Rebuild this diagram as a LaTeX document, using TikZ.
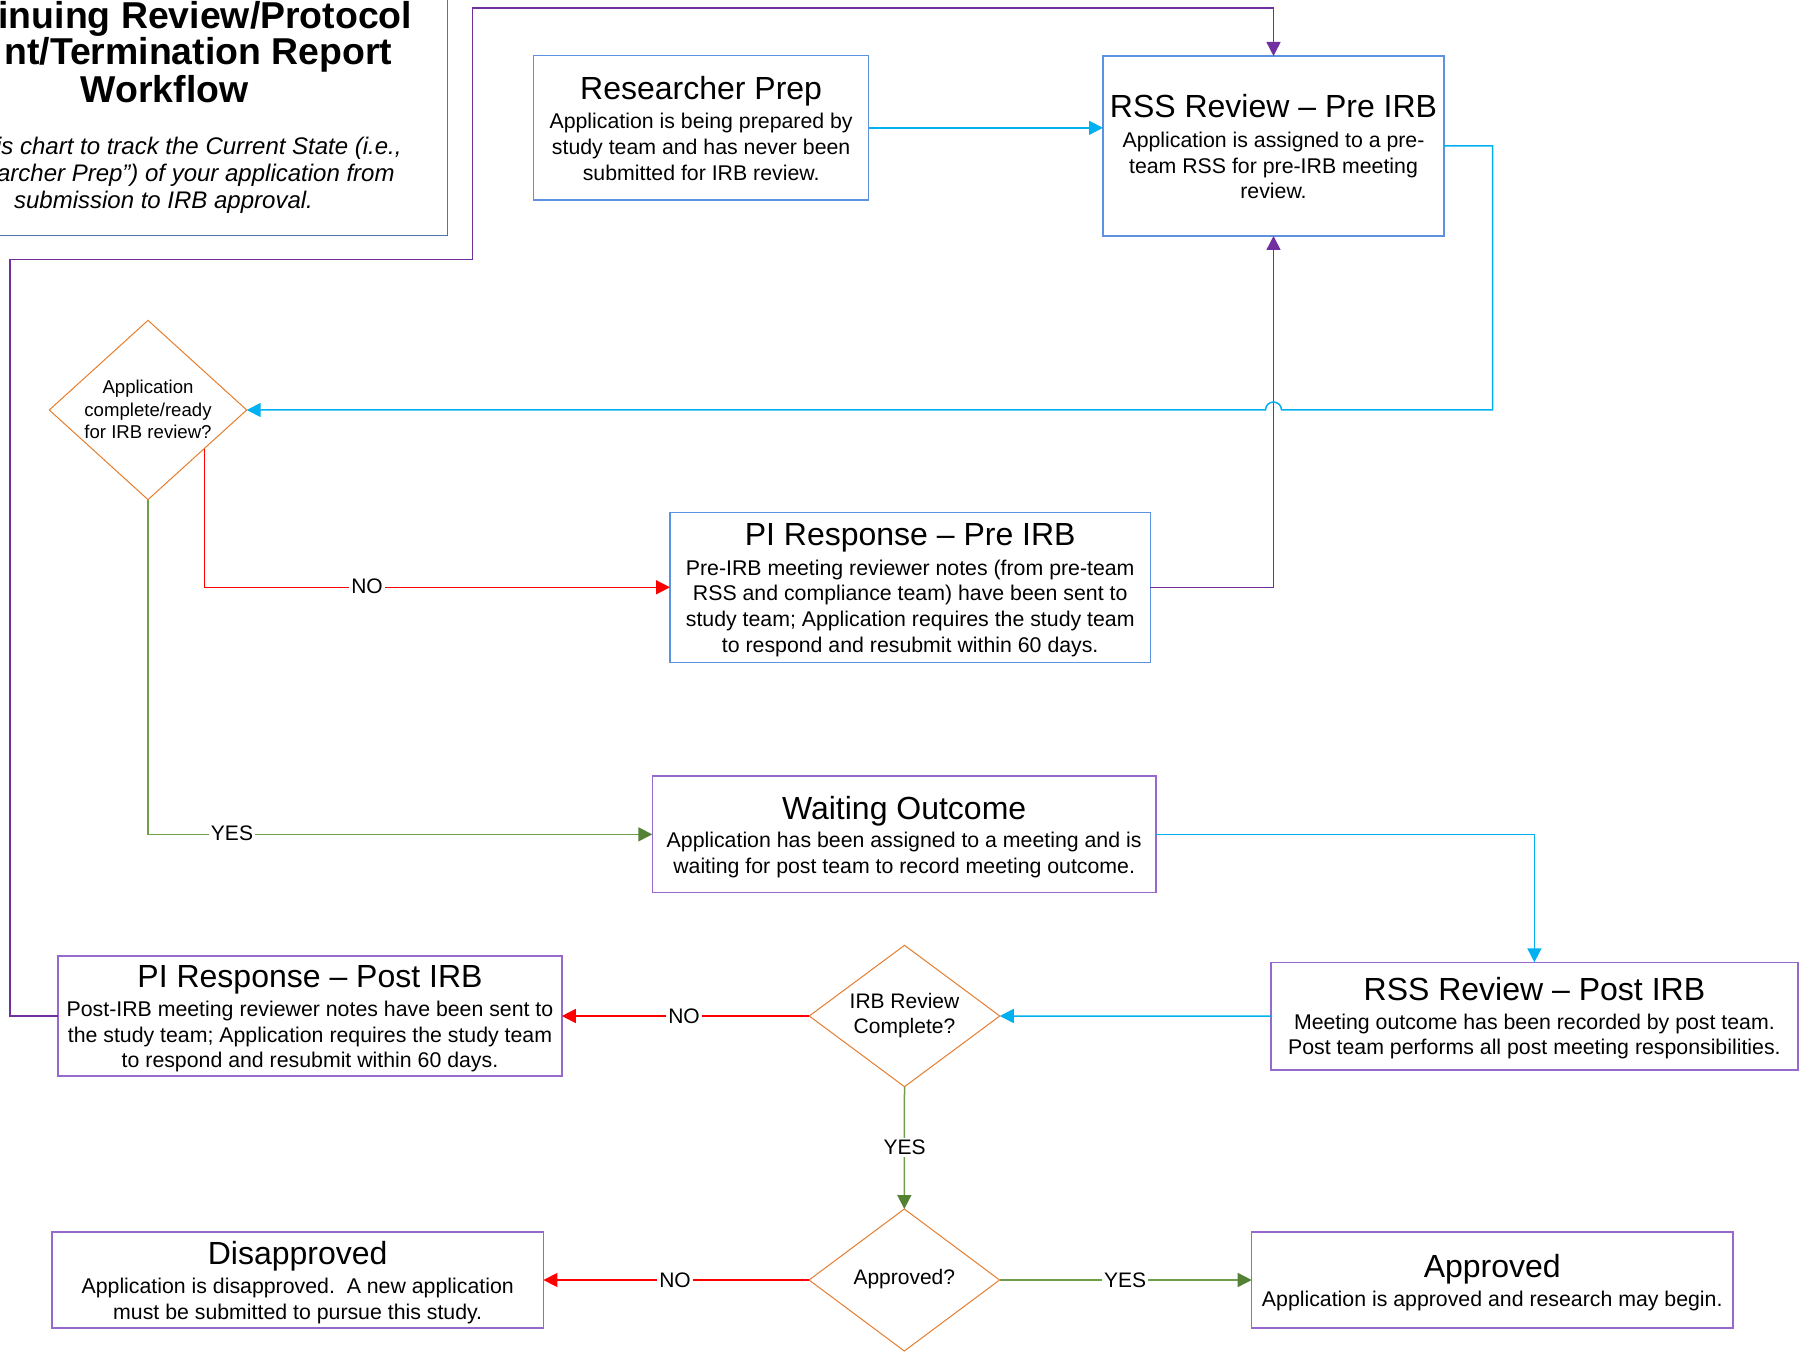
\documentclass[tikz,border=0pt]{standalone}
\usepackage{fontspec}
\setmainfont{Liberation Sans}
\usetikzlibrary{shapes.geometric,arrows.meta,calc}
\definecolor{boxblue}{RGB}{95,145,225}
\definecolor{boxpurple}{RGB}{150,105,205}
\definecolor{framecol}{RGB}{85,115,165}
\definecolor{cpurple}{RGB}{112,48,160}
\definecolor{ccyan}{RGB}{0,176,240}
\definecolor{cred}{RGB}{255,0,0}
\definecolor{cgreen}{RGB}{112,160,70}
\definecolor{cgreendark}{RGB}{84,130,53}
\definecolor{dorange}{RGB}{230,125,45}
\tikzset{
  blbox/.style={draw=boxblue, line width=0.75pt, rectangle, inner sep=0pt, outer sep=0pt},
  pubox/.style={draw=boxpurple, line width=0.75pt, rectangle, inner sep=0pt, outer sep=0pt},
  dia/.style={draw=dorange, line width=0.5pt, diamond, inner sep=0pt, outer sep=0pt},
  ttl/.style={anchor=base, inner sep=0pt, font=\fontsize{16pt}{19pt}\selectfont},
  bdy/.style={anchor=base, inner sep=0pt, align=center, font=\fontsize{10.65pt}{12.9pt}\selectfont},
  dtxt/.style={inner sep=0pt, align=center, font=\fontsize{10.5pt}{12.7pt}\selectfont},
  lbl/.style={fill=white, inner sep=1pt, font=\fontsize{10.5pt}{12.7pt}\selectfont},
  tip/.style={-{Triangle[length=7pt,width=7pt]}},
  cy/.style={draw=ccyan, line width=0.75pt, tip},
  pu/.style={draw=cpurple, line width=0.75pt, tip},
  rd/.style={draw=cred, line width=0.75pt, tip},
  gr/.style={draw=cgreen, line width=0.75pt, -{Triangle[length=7pt,width=7pt,color=cgreendark]}},
  hd/.style={inner sep=0pt, font=\fontsize{18.7pt}{18.5pt}\selectfont\bfseries},
  sub/.style={inner sep=0pt, font=\fontsize{12pt}{13.5pt}\selectfont\itshape},
}
\begin{document}
\begin{tikzpicture}[x=0.5pt, y=-0.5pt]
\useasboundingbox (0,0) rectangle (1809,1352);
\clip (0,0) rectangle (1809,1352);

% title frame
\draw[draw=framecol, line width=0.75pt] (-130,-10) rectangle (447.7,235.7);
\node[hd, anchor=base east] (h1) at (412.5,28.3) {inuing Review/Protocol};
\node[hd, anchor=base east] (h2) at (392.6,65) {nt/Termination Report};
\node[hd, anchor=base] (h3) at (164.7,102.5) {Workflow};
\node[sub, anchor=base east] (s1) at (402,154.3) {is chart to track the Current State (i.e.,};
\node[sub, anchor=base east] (s2) at (395,181.5) {archer Prep”) of your application from};
\node[sub, anchor=base] (s3) at (163.5,208.3) {submission to IRB approval.};

% boxes
\node[blbox, minimum width=167.45pt, minimum height=72.15pt] (rp) at (701.15,127.85) {};
\node[blbox, minimum width=170.5pt, minimum height=90pt] (rssPre) at (1273.5,146) {};
\node[blbox, minimum width=240.2pt, minimum height=75pt] (piPre) at (910.2,587.3) {};
\node[pubox, minimum width=251.85pt, minimum height=58.35pt] (wait) at (904.15,834.35) {};
\node[pubox, minimum width=263.6pt, minimum height=53.85pt] (rssPost) at (1534.4,1016.15) {};
\node[pubox, minimum width=251.8pt, minimum height=60pt] (piPost) at (310,1016) {};
\node[pubox, minimum width=245.7pt, minimum height=48pt] (dis) at (297.7,1280) {};
\node[pubox, minimum width=240.55pt, minimum height=48pt] (app) at (1492.25,1280) {};

% diamonds
\node[dia, minimum width=98.7pt, minimum height=89.65pt] (D1) at (148,410) {};
\node[dia, minimum width=95.25pt, minimum height=70.7pt] (D2) at (904.5,1016) {};
\node[dia, minimum width=95.25pt, minimum height=71pt] (D3) at (904.3,1280) {};

% box texts (body nodes anchored at the baseline of their last line)
\node[ttl] (rpT) at (701.15,99.8) {Researcher Prep};
\node[bdy] (rpB) at (701.15,180.4) {Application is being prepared by\\study team and has never been\\submitted for IRB review.};
\node[ttl] (rssPreT) at (1273.5,118) {RSS Review – Pre IRB};
\node[bdy] (rssPreB) at (1273.5,198.9) {Application is assigned to a pre-\\team RSS for pre-IRB meeting\\review.};
\node[ttl] (piPreT) at (910.2,545.5) {PI Response – Pre IRB};
\node[bdy] (piPreB) at (910.2,652.4) {Pre-IRB meeting reviewer notes (from pre-team\\RSS and compliance team) have been sent to\\study team; Application requires the study team\\to respond and resubmit within 60 days.};
\node[ttl] (waitT) at (904.15,819.5) {Waiting Outcome};
\node[bdy] (waitB) at (904.15,873.5) {Application has been assigned to a meeting and is\\waiting for post team to record meeting outcome.};
\node[ttl] (rssPostT) at (1534.4,1000.3) {RSS Review – Post IRB};
\node[bdy] (rssPostB) at (1534.4,1054.8) {Meeting outcome has been recorded by post team.\\Post team performs all post meeting responsibilities.};
\node[ttl] (piPostT) at (310,987.2) {PI Response – Post IRB};
\node[bdy] (piPostB) at (310,1067.8) {Post-IRB meeting reviewer notes have been sent to\\the study team; Application requires the study team\\to respond and resubmit within 60 days.};
\node[ttl] (disT) at (297.7,1264.5) {Disapproved};
\node[bdy] (disB) at (297.7,1319.5) {Application is disapproved.\ \ A new application\\must be submitted to pursue this study.};
\node[ttl] (appT) at (1492.25,1277) {Approved};
\node[bdy] (appB) at (1492.25,1306) {Application is approved and research may begin.};

% diamond texts
\node[dtxt, font=\fontsize{9.3pt}{11.25pt}\selectfont] (D1t) at (148,409.5) {Application\\complete/ready\\for IRB review?};
\node[dtxt] (D2t) at (904.5,1015.5) {IRB Review\\Complete?};
\node[dtxt] (D3t) at (904.3,1279.5) {Approved?};

% connectors
\draw[pu] (piPost.west) -- (10,1016) -- (10,259.6) -- (472.7,259.6) -- (472.7,8) -- (1273.5,8) -- (rssPre.north);
\draw[pu] (piPre.east) -- (piPre.east -| rssPre.south) -- (rssPre.south);
\draw[cy] (rp.east) -- (rp.east -| rssPre.west);
\draw[cy] (rssPre.east) -- (1492.7,146) -- (1492.7,410) -- (1281.5,410)
   arc[start angle=0, end angle=180, radius=4pt] -- (D1.east);
\coordinate (r1s) at ($(D1.east)!0.43!(D1.south)$);
\draw[rd] (r1s) -- (r1s |- piPre.west) -- (piPre.west);
\draw[gr] (D1.south) -- (D1.south |- wait.west) -- (wait.west);
\draw[cy] (wait.east) -- (wait.east -| rssPost.north) -- (rssPost.north);
\draw[cy] (rssPost.west) -- (D2.east);
\draw[rd] (D2.west) -- (piPost.east);
\draw[gr] (D2.south) -- (D3.north);
\draw[rd] (D3.west) -- (dis.east);
\draw[gr] (D3.east) -- (app.west);

% labels
\node[lbl] (l1) at (367,586.7) {NO};
\node[lbl] (l2) at (232,833.5) {YES};
\node[lbl] (l3) at (684,1016) {NO};
\node[lbl] (l4) at (904.5,1147.5) {YES};
\node[lbl] (l5) at (675,1280) {NO};
\node[lbl] (l6) at (1125,1280) {YES};
\end{tikzpicture}
\end{document}
